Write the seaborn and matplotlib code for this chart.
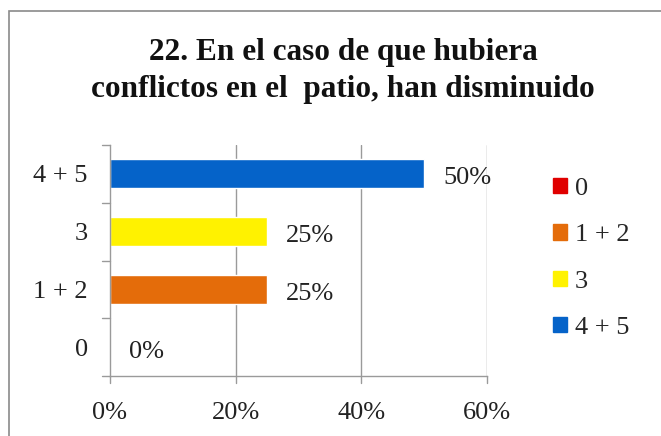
import matplotlib
matplotlib.use("Agg")
from matplotlib import pyplot as plt
from matplotlib.patches import Rectangle
import seaborn as sns
import pandas as pd

# Data
categories = ["0", "1 + 2", "3", "4 + 5"]
values = [0.0, 0.25, 0.25, 0.50]
bar_colors = ["#E00000", "#E46C0A", "#FFF200", "#0563C9"]
x_ticks = [0.0, 0.2, 0.4, 0.6]
x_tick_labels = ["0%", "20%", "40%", "60%"]
title = "22. En el caso de que hubiera\nconflictos en el  patio, han disminuido"

sns.set_theme(style="white")
plt.rcParams["font.family"] = ["Liberation Serif", "DejaVu Serif"]

df = pd.DataFrame({"cat": categories, "val": values})
# plot top-to-bottom order so "4 + 5" is on top
order = categories[::-1]
palette = dict(zip(categories, bar_colors))

fig = plt.figure(figsize=(6.61, 4.36), dpi=100)
ax = fig.add_axes([110 / 661, 1 - 376 / 436, (487 - 110) / 661, (376 - 145) / 436])

sns.barplot(data=df, y="cat", x="val", hue="cat", order=order, hue_order=categories,
            palette=palette, width=0.5, legend=False, ax=ax, saturation=1)

ax.set_xlim(0, 0.6)
ax.set_ylim(3.5, -0.5)
ax.set_xticks(x_ticks)
ax.set_xticklabels(x_tick_labels, fontsize=19, color="#222222")
ax.tick_params(axis="y", labelsize=19, labelcolor="#222222", length=0, pad=16)
ax.tick_params(axis="x", pad=19, length=0)
ax.set_xlabel("")
ax.set_ylabel("")

# gridlines and spines
for x in x_ticks[1:]:
    ax.axvline(x, color="#9a9a9a", lw=1, zorder=0)
for s in ["top", "right"]:
    ax.spines[s].set_visible(False)
for s in ["left", "bottom"]:
    ax.spines[s].set_color("#9a9a9a")
    ax.spines[s].set_linewidth(1)

# small tick marks like the original
for y in [-0.5, 0.5, 1.5, 2.5, 3.5]:
    ax.plot([-0.012, 0], [y, y], color="#9a9a9a", lw=1, clip_on=False)
for x in x_ticks:
    ax.plot([x, x], [3.5, 3.62], color="#9a9a9a", lw=1, clip_on=False)

# value labels
for i, c in enumerate(order):
    v = df.loc[df["cat"] == c, "val"].iloc[0]
    ax.text(v + 0.03, i + 0.08, f"{v:.0%}", va="center", ha="left", fontsize=19, color="#222222")

# legend
handles = [Rectangle((0, 0), 1, 1, color=col) for col in bar_colors]
fig.legend(handles, categories, loc="upper left", bbox_to_anchor=(553 / 661, 1 - 178 / 436),
           frameon=False, fontsize=19, handlelength=0.52, handleheight=0.52,
           handletextpad=0.3, labelspacing=0.92, borderaxespad=0, borderpad=0)

# title
fig.text(343 / 661, 1 - 71 / 436, title, ha="center", va="center", fontsize=22.5,
         fontweight="bold", color="#111111", linespacing=1.35)

# outer chart frame
fig.add_artist(Rectangle((9 / 661, -0.1), 1.0, 1 - 11 / 436 + 0.1, transform=fig.transFigure,
                         fill=False, edgecolor="#8a8a8a", lw=1.2))

fig.savefig("out.png", dpi=100, facecolor="white")
